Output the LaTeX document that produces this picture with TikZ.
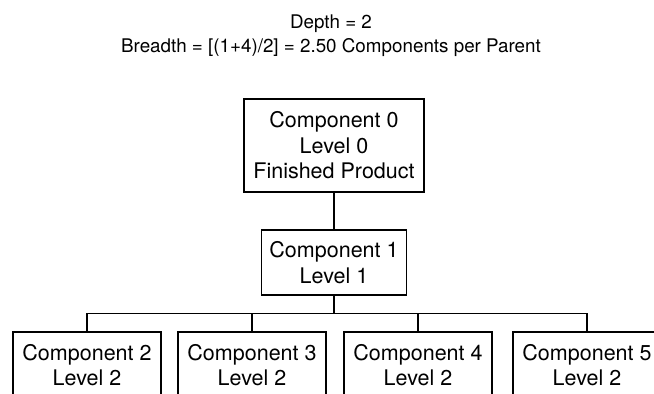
\documentclass[tikz,border=0pt]{standalone}
\usepackage{fontspec}
\setmainfont{TeX Gyre Heros}
\begin{document}
\begin{tikzpicture}[x=1pt,y=-1pt,
    box/.style={draw, line width=1.4pt, align=center, inner sep=0pt,
        font=\fontsize{21.5}{25.5}\selectfont},
    child/.style={box, minimum width=148pt, minimum height=66pt},
    link/.style={line width=1.4pt}]
    \useasboundingbox (0,0) rectangle (654,394);
    \clip (0,0) rectangle (654,394);

    \node[align=center, font=\fontsize{18.8}{24}\selectfont] (title) at (331,36)
        {Depth = 2\\Breadth = [(1+4)/2] = 2.50 Components per Parent};

    \node[box, minimum width=180pt, minimum height=93pt] (c0) at (334,145.5) {Component 0\\Level 0\\Finished Product};
    \node[box, minimum width=145pt, minimum height=65pt] (c1) at (334,262.5) {Component 1\\Level 1};

    \node[child] (c2) at (87,365) {Component 2\\Level 2};
    \node[child] (c3) at (252,365) {Component 3\\Level 2};
    \node[child] (c4) at (418,365) {Component 4\\Level 2};
    \node[child] (c5) at (587,365) {Component 5\\Level 2};

    \draw[link] (c0) -- (c1);
    \coordinate (bar) at ([yshift=-18pt]c1.south);
    \draw[link] (c1.south) -- (bar);
    \foreach \c in {c2,c3,c4,c5} \draw[link] (\c.north) |- (bar);
\end{tikzpicture}
\end{document}
